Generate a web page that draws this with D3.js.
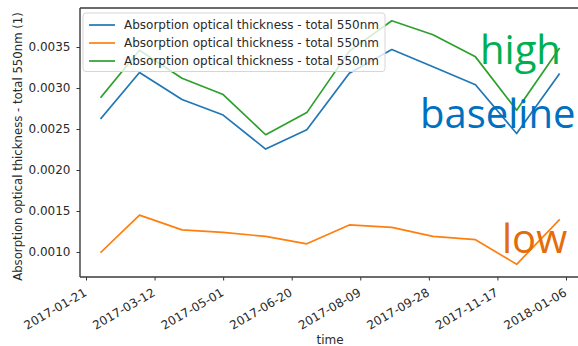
<!DOCTYPE html>
<html>
<head>
<meta charset="utf-8">
<script src="https://cdn.jsdelivr.net/npm/d3@7"></script>
<style>
  html, body { margin: 0; padding: 0; background: #fff; }
  svg { display: block; }
</style>
</head>
<body>
<svg id="chart" width="578" height="346"></svg>
<script>
// Monthly absorption optical thickness at 550 nm for three scenarios
const dates = ["2017-02-01", "2017-03-01", "2017-04-01", "2017-05-01", "2017-06-01", "2017-07-01",
               "2017-08-01", "2017-09-01", "2017-10-01", "2017-11-01", "2017-12-01", "2018-01-01"];
const baseline = [0.00263, 0.00319, 0.00286, 0.00267, 0.002255, 0.00249,
                  0.00318, 0.00347, 0.00326, 0.00304, 0.002445, 0.00317];
const low      = [0.00100, 0.00145, 0.00127, 0.00124, 0.00119, 0.00110,
                  0.00133, 0.00130, 0.00119, 0.00115, 0.00085, 0.00139];
const high     = [0.00289, 0.00346, 0.00312, 0.00292, 0.00243, 0.00270,
                  0.00345, 0.00382, 0.00365, 0.00338, 0.00273, 0.00348];

const xTickLabels = ["2017-01-21", "2017-03-12", "2017-05-01", "2017-06-20",
                     "2017-08-09", "2017-09-28", "2017-11-17", "2018-01-06"];
const yTickValues = [0.0010, 0.0015, 0.0020, 0.0025, 0.0030, 0.0035];

const seriesName = "Absorption optical thickness - total 550nm";
const yLabel = "Absorption optical thickness - total 550nm (1)";
const xLabel = "time";
const scenarioNames = ["baseline", "low", "high"];

const colors = { baseline: "#1f77b4", low: "#ff7f0e", high: "#2ca02c" };
const noteColors = { baseline: "#0070c0", low: "#e46c0a", high: "#00b050" };

const parse = d3.utcParse("%Y-%m-%d");
const series = [
  { key: "baseline", values: baseline },
  { key: "low", values: low },
  { key: "high", values: high }
].map(s => ({ key: s.key, points: s.values.map((v, i) => ({ date: parse(dates[i]), value: v })) }));

const svg = d3.select("#chart");
const plot = { left: 80, top: 8, right: 580, bottom: 277 };
const font = "'DejaVu Sans', sans-serif";
const fs = 12;
const textColor = "#2a2a2a";

const x = d3.scaleUtc()
  .domain([new Date(Date.UTC(2017, 0, 16, 15)), new Date(Date.UTC(2018, 0, 16, 5))])
  .range([plot.left, plot.right]);
const y = d3.scaleLinear()
  .domain([0.000695, 0.003976])
  .range([plot.bottom, plot.top]);

svg.append("clipPath").attr("id", "plot-clip")
  .append("rect")
  .attr("x", plot.left).attr("y", plot.top)
  .attr("width", plot.right - plot.left).attr("height", plot.bottom - plot.top);

// Data lines
const line = d3.line().x(d => x(d.date)).y(d => y(d.value));
svg.append("g").attr("clip-path", "url(#plot-clip)")
  .selectAll("path").data(series).join("path")
  .attr("d", d => line(d.points))
  .attr("fill", "none")
  .attr("stroke", d => colors[d.key])
  .attr("stroke-width", 1.7)
  .attr("stroke-linejoin", "round")
  .attr("stroke-linecap", "square");

// Axes
const xAxis = d3.axisBottom(x)
  .tickValues(xTickLabels.map(parse))
  .tickFormat(d3.utcFormat("%Y-%m-%d"))
  .tickSizeOuter(0).tickSizeInner(3.5).tickPadding(3);
const gx = svg.append("g").attr("transform", `translate(0,${plot.bottom})`).call(xAxis);
gx.select(".domain").remove();
gx.selectAll(".tick line").attr("stroke", "#333").attr("stroke-width", 1);
gx.selectAll(".tick text")
  .attr("font-family", font).attr("font-size", fs).attr("fill", textColor)
  .attr("text-anchor", "end")
  .attr("y", 0).attr("dy", 0)
  .attr("transform", "translate(1,18) rotate(-30)");

const yAxis = d3.axisLeft(y)
  .tickValues(yTickValues)
  .tickFormat(d3.format(".4f"))
  .tickSizeOuter(0).tickSizeInner(3.5).tickPadding(6);
const gy = svg.append("g").attr("transform", `translate(${plot.left},0)`).call(yAxis);
gy.select(".domain").remove();
gy.selectAll(".tick line").attr("stroke", "#333").attr("stroke-width", 1);
gy.selectAll(".tick text")
  .attr("font-family", font).attr("font-size", fs).attr("fill", textColor);

// Spines
const spine = svg.append("g").attr("stroke", "#3a3a3a").attr("stroke-width", 1.4).attr("fill", "none");
spine.append("line").attr("x1", plot.left).attr("x2", plot.left).attr("y1", plot.top).attr("y2", plot.bottom);
spine.append("line").attr("x1", plot.left).attr("x2", plot.right).attr("y1", plot.bottom).attr("y2", plot.bottom);
spine.append("line").attr("x1", plot.left).attr("x2", plot.right).attr("y1", plot.top).attr("y2", plot.top);
spine.append("line").attr("x1", plot.right).attr("x2", plot.right).attr("y1", plot.top).attr("y2", plot.bottom);

// Axis labels
svg.append("text")
  .attr("transform", `translate(22,${(plot.top + plot.bottom) / 2 + 4}) rotate(-90)`)
  .attr("text-anchor", "middle")
  .attr("font-family", font).attr("font-size", 11.7).attr("fill", textColor)
  .text(yLabel);
svg.append("text")
  .attr("x", (plot.left + plot.right) / 2).attr("y", 344)
  .attr("text-anchor", "middle")
  .attr("font-family", font).attr("font-size", fs).attr("fill", textColor)
  .text(xLabel);

// Legend
const legend = svg.append("g").attr("transform", "translate(83,13)");
legend.append("rect")
  .attr("width", 302).attr("height", 58.5).attr("rx", 3)
  .attr("fill", "#fff").attr("fill-opacity", 0.8)
  .attr("stroke", "#d6d6d6").attr("stroke-width", 1);
const items = legend.selectAll("g.item").data(scenarioNames).join("g")
  .attr("class", "item")
  .attr("transform", (d, i) => `translate(0,${12 + i * 18})`);
items.append("line")
  .attr("x1", 6).attr("x2", 32)
  .attr("stroke", d => colors[d]).attr("stroke-width", 1.7);
items.append("text")
  .attr("x", 41).attr("dy", "0.35em")
  .attr("font-family", font).attr("font-size", fs).attr("fill", textColor)
  .text(seriesName);

// Scenario annotations
const notes = [
  { key: "high", x: 480, y: 64 },
  { key: "baseline", x: 420, y: 128 },
  { key: "low", x: 502, y: 253 }
];
svg.selectAll("text.note").data(notes).join("text")
  .attr("class", "note")
  .attr("x", d => d.x).attr("y", d => d.y)
  .attr("font-family", "'Open Sans', sans-serif").attr("font-size", 40)
  .attr("fill", d => noteColors[d.key])
  .text(d => d.key);
</script>
</body>
</html>
